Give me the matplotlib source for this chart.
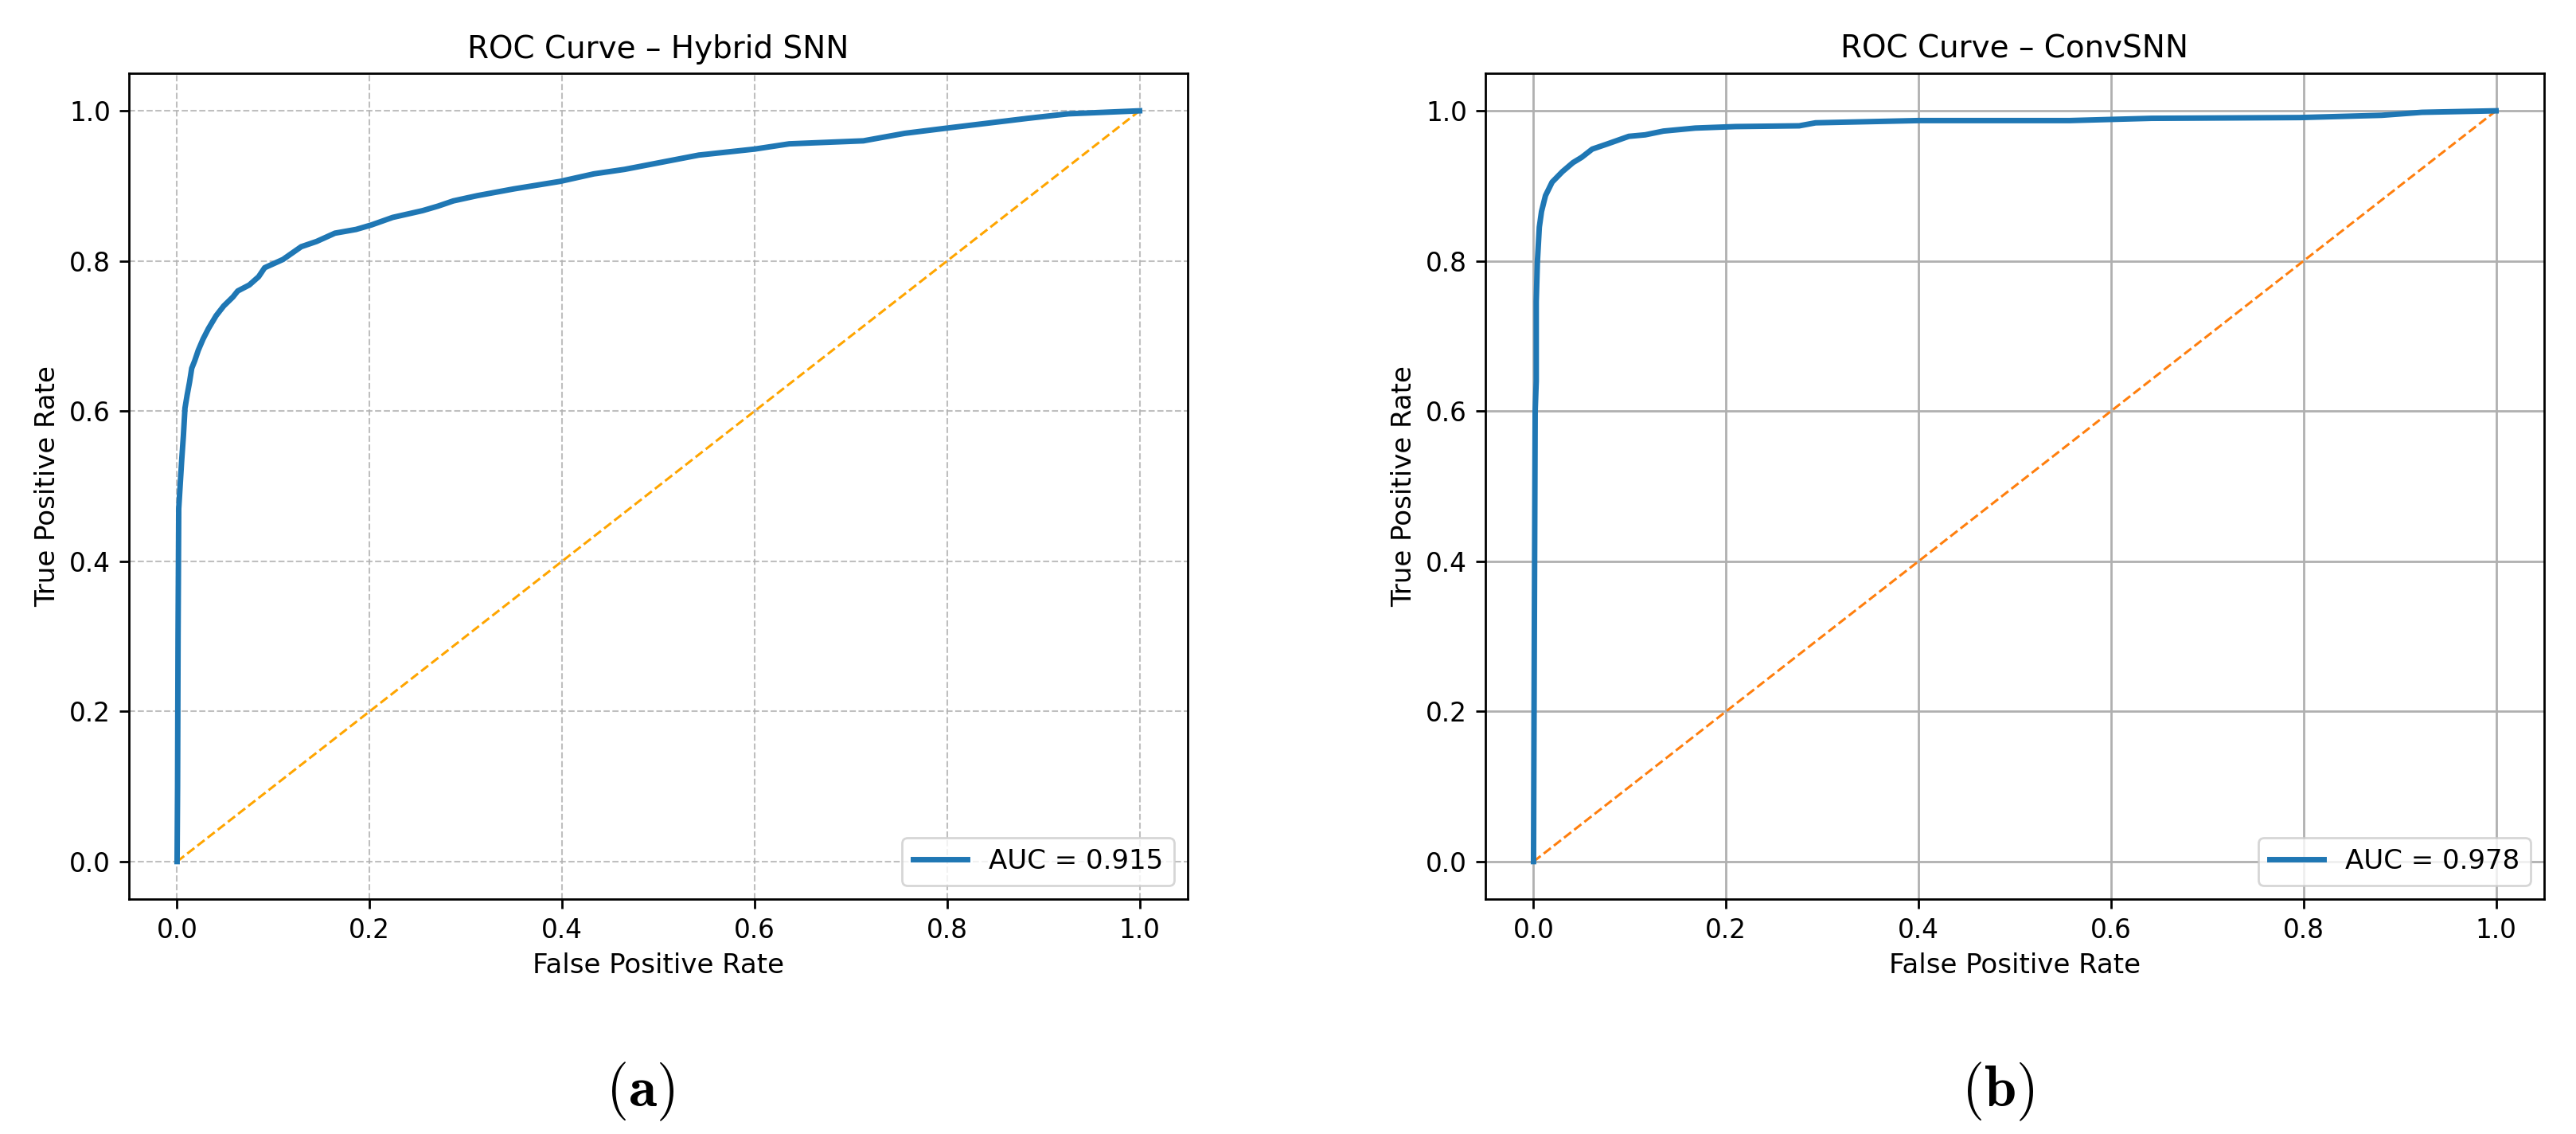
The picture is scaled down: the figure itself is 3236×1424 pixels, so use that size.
import matplotlib
matplotlib.use("Agg")
from matplotlib import pyplot as plt

# ROC curve points (FPR, TPR)
hybrid_fpr = [0.0, 0.0005, 0.001, 0.0017, 0.0047, 0.0066, 0.0082, 0.0104, 0.013, 0.0152,
              0.0183, 0.022, 0.027, 0.0326, 0.0405, 0.0484, 0.058, 0.063, 0.075, 0.0847,
              0.091, 0.11, 0.129, 0.145, 0.164, 0.186, 0.202, 0.224, 0.255, 0.271,
              0.287, 0.312, 0.35, 0.398, 0.433, 0.465, 0.542, 0.6, 0.636, 0.713,
              0.756, 0.8, 0.884, 0.926, 1.0]
hybrid_tpr = [0.0, 0.1, 0.3, 0.47, 0.533, 0.568, 0.604, 0.621, 0.639, 0.657,
              0.667, 0.681, 0.696, 0.71, 0.727, 0.74, 0.752, 0.76, 0.768, 0.779,
              0.791, 0.802, 0.819, 0.826, 0.837, 0.842, 0.848, 0.858, 0.867, 0.873,
              0.88, 0.887, 0.896, 0.906, 0.916, 0.922, 0.941, 0.949, 0.956, 0.96,
              0.97, 0.977, 0.99, 0.996, 1.0]

conv_fpr = [0.0, 0.0008, 0.0017, 0.0028, 0.0028, 0.004, 0.006, 0.0083, 0.0124, 0.0193,
            0.03, 0.041, 0.05, 0.061, 0.077, 0.099, 0.116, 0.135, 0.168, 0.21,
            0.276, 0.293, 0.4, 0.557, 0.642, 0.796, 0.881, 0.923, 1.0]
conv_tpr = [0.0, 0.3, 0.6, 0.64, 0.746, 0.799, 0.845, 0.866, 0.887, 0.905,
            0.919, 0.931, 0.938, 0.949, 0.956, 0.966, 0.968, 0.973, 0.977, 0.979,
            0.98, 0.984, 0.987, 0.987, 0.99, 0.991, 0.994, 0.998, 1.0]

titles = ["ROC Curve \u2013 Hybrid SNN", "ROC Curve \u2013 ConvSNN"]
auc_labels = ["AUC = 0.915", "AUC = 0.978"]
panel_labels = [r"$(\mathbf{a})$", r"$(\mathbf{b})$"]

plt.rcParams['mathtext.fontset'] = 'cm'

fig = plt.figure(figsize=(32.37, 14.24), dpi=100)
ax1 = fig.add_axes([0.05005, 0.20716, 0.41087, 0.72823])
ax2 = fig.add_axes([0.57646, 0.20716, 0.41087, 0.72823])

curves = [(hybrid_fpr, hybrid_tpr), (conv_fpr, conv_tpr)]
diag_colors = ['orange', '#ff7f0e']

for i, ax in enumerate([ax1, ax2]):
    fpr, tpr = curves[i]
    ax.plot(fpr, tpr, color='#1f77b4', lw=5, label=auc_labels[i], zorder=3)
    ax.plot([0, 1], [0, 1], linestyle='--', color=diag_colors[i], lw=2.2, zorder=2)
    if i == 0:
        ax.grid(True, linestyle='--', color='#b0b0b0', alpha=0.8, lw=1.5)
    else:
        ax.grid(True, color='#b0b0b0', lw=2.0)
    ax.set_axisbelow(True)
    ax.set_xticks([0.0, 0.2, 0.4, 0.6, 0.8, 1.0])
    ax.set_yticks([0.0, 0.2, 0.4, 0.6, 0.8, 1.0])
    ax.tick_params(labelsize=23.5, length=8.5, width=2.0, pad=8)
    for s in ax.spines.values():
        s.set_linewidth(2.0)
    ax.set_xlabel("False Positive Rate", fontsize=24.5, labelpad=8)
    ax.set_ylabel("True Positive Rate", fontsize=24.5, labelpad=8)
    ax.set_title(titles[i], fontsize=28, pad=14)
    leg = ax.legend(loc='lower right', fontsize=24.5, handlelength=2.0)
    leg.get_frame().set_linewidth(2.0)

fig.text(0.2484, 0.0372, panel_labels[0], fontsize=52, ha='center', va='center')
fig.text(0.7754, 0.0372, panel_labels[1], fontsize=52, ha='center', va='center')

fig.savefig("out.png", dpi=100)
